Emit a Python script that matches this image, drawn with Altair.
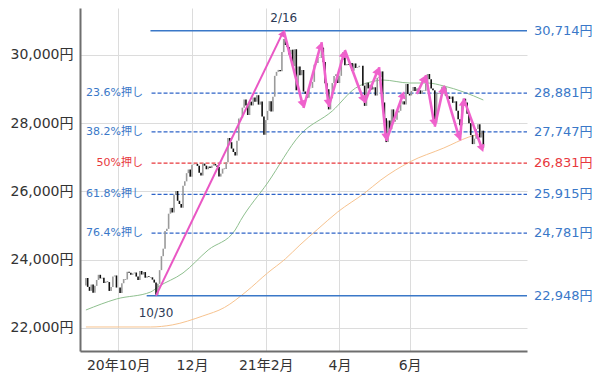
import math
import altair as alt
import pandas as pd

FONT = "DejaVu Sans, Noto Sans CJK JP"

# ---------------- data ----------------
month_keys = ["2020-09", "2020-10", "2020-11", "2020-12", "2021-01", "2021-02",
              "2021-03", "2021-04", "2021-05", "2021-06", "2021-07"]
trading_days = {
    "2020-09": [3, 4, 7, 8, 9, 10, 11, 14, 15, 16, 17, 18, 23, 24, 25, 28, 29, 30],
    "2020-10": [1, 2, 5, 6, 7, 8, 9, 12, 13, 14, 15, 16, 19, 20, 21, 22, 23, 26, 27, 28, 29, 30],
    "2020-11": [2, 4, 5, 6, 9, 10, 11, 12, 13, 16, 17, 18, 19, 20, 24, 25, 26, 27, 30],
    "2020-12": [1, 2, 3, 4, 7, 8, 9, 10, 11, 14, 15, 16, 17, 18, 21, 22, 23, 24, 25, 28, 29, 30],
    "2021-01": [4, 5, 6, 7, 8, 12, 13, 14, 15, 18, 19, 20, 21, 22, 25, 26, 27, 28, 29],
    "2021-02": [1, 2, 3, 4, 5, 8, 9, 10, 12, 15, 16, 17, 18, 19, 22, 24, 25, 26],
    "2021-03": [1, 2, 3, 4, 5, 8, 9, 10, 11, 12, 15, 16, 17, 18, 19, 22, 23, 24, 25, 26, 29, 30, 31],
    "2021-04": [1, 2, 5, 6, 7, 8, 9, 12, 13, 14, 15, 16, 19, 20, 21, 22, 23, 26, 27, 28, 30],
    "2021-05": [6, 7, 10, 11, 12, 13, 14, 17, 18, 19, 20, 21, 24, 25, 26, 27, 28, 31],
    "2021-06": [1, 2, 3, 4, 7, 8, 9, 10, 11, 14, 15, 16, 17, 18, 21, 22, 23, 24, 25, 28, 29, 30],
    "2021-07": [1, 2, 5, 6, 7, 8, 9, 12, 13, 14, 15, 16, 19, 20, 21, 26, 27, 28, 29, 30],
}
closes = {
    "2020-09": [23465, 23205, 23089, 23274, 23032, 23235, 23406, 23559, 23454, 23475, 23319, 23360,
                23346, 23087, 23204, 23511, 23539, 23185],
    "2020-10": [23185, 23029, 23312, 23433, 23422, 23647, 23619, 23558, 23601, 23626, 23507, 23410,
                23671, 23567, 23639, 23474, 23516, 23494, 23485, 23418, 23331, 22977],
    "2020-11": [23295, 23695, 24105, 24325, 24839, 24905, 25350, 25520, 25385, 25907, 26014, 25728,
                25634, 25527, 26166, 26297, 26537, 26644, 26434],
    "2020-12": [26787, 26801, 26809, 26751, 26547, 26467, 26817, 26756, 26652, 26733, 26687, 26757,
                26806, 26763, 26715, 26437, 26524, 26668, 26656, 26854, 27568, 27444],
    "2021-01": [27258, 27158, 27056, 27490, 28139, 28164, 28457, 28699, 28519, 28242, 28633, 28523,
                28757, 28631, 28822, 28546, 28635, 28197, 27663],
    "2021-02": [28092, 28362, 28646, 28341, 28779, 29389, 29506, 29563, 29520, 30084, 30468, 30292,
                30236, 30018, 30156, 29672, 30168, 28966],
    "2021-03": [29664, 29408, 29560, 28930, 28864, 28744, 29028, 29036, 29212, 29718, 29767, 29922,
                29915, 30216, 29792, 29174, 28996, 28406, 28730, 29177, 29385, 29433, 29179],
    "2021-04": [29389, 29854, 30089, 29697, 29731, 29709, 29768, 29539, 29752, 29621, 29643, 29684,
                29686, 29101, 28509, 29189, 29021, 29127, 28992, 29054, 28813],
    "2021-05": [29332, 29358, 29519, 28609, 28148, 27448, 28084, 27825, 28406, 28045, 28099, 28318,
                28365, 28554, 28643, 28550, 29149, 28860],
    "2021-06": [28815, 28946, 29059, 28942, 29020, 28964, 28861, 28959, 28949, 29162, 29442, 29292,
                29019, 28964, 28011, 28885, 28875, 28876, 29066, 29048, 28812, 28792],
    "2021-07": [28707, 28783, 28598, 28643, 28367, 28118, 27940, 28570, 28719, 28609, 28279, 28003,
                27652, 27389, 27548, 27834, 27970, 27582, 27782, 27284],
}
close_before_start = 23247

# moving averages
ma_short_dates = ["2020-09-03", "2020-09-30", "2020-10-27", "2020-11-02", "2020-11-24", "2020-12-14",
                  "2021-01-06", "2021-01-12", "2021-02-02", "2021-03-02", "2021-03-26", "2021-04-14",
                  "2021-04-28", "2021-05-11", "2021-06-01", "2021-06-15", "2021-06-28", "2021-07-13",
                  "2021-07-30"]
ma_short_vals = [22527, 22850, 23055, 23201, 23612, 24286, 24872, 25150, 26249, 27656, 28359, 29033,
                 29230, 29267, 29179, 29179, 29092, 28916, 28681]
ma_long_dates = ["2020-09-03", "2020-10-27", "2020-11-13", "2020-12-09", "2020-12-25", "2021-01-15",
                 "2021-02-02", "2021-02-17", "2021-03-02", "2021-03-16", "2021-03-31", "2021-04-21",
                 "2021-05-10", "2021-06-01", "2021-06-28", "2021-07-16", "2021-07-30"]
ma_long_vals = [22030, 22030, 22090, 22352, 22600, 23060, 23612, 24030, 24432, 24900, 25400, 25956,
                26337, 26864, 27275, 27597, 27714]

# Fibonacci retracement levels
fib_levels = [30714, 28881, 27747, 26831, 25915, 24781, 22948]
fib_pcts = ["", "23.6%押し", "38.2%押し", "50%押し", "61.8%押し", "76.4%押し", ""]

# arrows (trend moves)
seg_start_dates = ["2020-10-30", "2021-02-16", "2021-03-04", "2021-03-18", "2021-03-24", "2021-04-06",
                   "2021-04-21", "2021-05-07", "2021-05-13", "2021-06-07", "2021-06-14", "2021-06-21",
                   "2021-06-28", "2021-07-09", "2021-07-13"]
seg_start_vals = [22948, 30714, 28447, 30380, 28476, 30147, 28593, 29648, 27480, 28857, 29414, 27900,
                  29100, 27500, 28730]
seg_end_dates = ["2021-02-16", "2021-03-04", "2021-03-18", "2021-03-24", "2021-04-06", "2021-04-21",
                 "2021-05-07", "2021-05-13", "2021-05-27", "2021-06-14", "2021-06-21", "2021-06-28",
                 "2021-07-09", "2021-07-13", "2021-07-30"]
seg_end_vals = [30714, 28447, 30380, 28476, 30147, 28593, 29648, 27480, 28945, 29414, 27900, 29100,
                27500, 28730, 27150]

tick_dates = ["2020-10-01", "2020-12-01", "2021-02-01", "2021-04-01", "2021-06-01"]
tick_labels = ["20年10月", "12月", "21年2月", "4月", "6月"]

point_dates = ["2021-02-16", "2020-10-30"]
point_vals = [30714, 22948]
point_labels = ["2/16", "10/30"]

# ---------------- layout ----------------
W, H = 447, 343
PAD = {"left": 72, "top": 0, "right": 65, "bottom": 23}
XDOM = [-0.5, 242.5]
YDOM = [21326, 31377]
kx = W / (XDOM[1] - XDOM[0])
ky = H / (YDOM[1] - YDOM[0])

BLUE = "#3a78c8"
DASH_BLUE = "#2f64c8"
RED = "#e8383d"
PINK = "#ef62cc"

# ---------------- frames ----------------
dates, cl = [], []
for m in month_keys:
    for d, c in zip(trading_days[m], closes[m]):
        dates.append(f"{m}-{d:02d}")
        cl.append(c)
idx_of = {d: i for i, d in enumerate(dates)}
opens = [close_before_start] + cl[:-1]
candles = pd.DataFrame({"date": dates, "idx": range(len(dates)), "open": opens, "close": cl})
candles["up"] = candles["close"] >= candles["open"]

ma_s = pd.DataFrame({"idx": [idx_of[d] for d in ma_short_dates], "v": ma_short_vals})
ma_l = pd.DataFrame({"idx": [idx_of[d] for d in ma_long_dates], "v": ma_long_vals})

fib = pd.DataFrame({"level": fib_levels, "pct": fib_pcts})
fib["col"] = [RED if p.startswith("50%") else BLUE for p in fib_pcts]
fib["dcol"] = [RED if p.startswith("50%") else DASH_BLUE for p in fib_pcts]
fib["txt"] = [f"{v:,}円" for v in fib_levels]
fib["start"] = [35.9, 36.5, 36.5, 36.5, 36.5, 36.5, 33.8]
fib_solid = fib[fib["pct"] == ""]
fib_dash = fib[fib["pct"] != ""]

rows = []
for k, (sd, sv, ed, ev) in enumerate(zip(seg_start_dates, seg_start_vals, seg_end_dates, seg_end_vals)):
    x0, x1 = idx_of[sd], idx_of[ed]
    sx, sy = (x1 - x0) * kx, (ev - sv) * ky
    L = math.hypot(sx, sy)
    back = (4.0 if k else 3.0) / L
    ang = math.degrees(math.atan2(sx, sy)) % 360
    rows.append({"x0": x0, "y0": sv,
                 "x1": x1 - back * (x1 - x0), "y1": ev - back * (ev - sv),
                 "ang": ang, "main": k == 0})
segs = pd.DataFrame(rows)

pts = pd.DataFrame({"idx": [idx_of[d] for d in point_dates], "v": point_vals, "t": point_labels})

tick_idx = [idx_of[d] for d in tick_dates]
label_expr = "".join(f"datum.value == {i} ? '{t}' : " for i, t in zip(tick_idx, tick_labels)) + "''"

xscale = alt.Scale(domain=XDOM, nice=False, zero=False)
yscale = alt.Scale(domain=YDOM, nice=False, zero=False)

x_axis = alt.Axis(values=tick_idx, labelExpr=label_expr, grid=True, gridColor="#dcdcdc",
                  domainColor="#6e6e6e", domainWidth=2, ticks=False, labelFontSize=14,
                  labelPadding=7, title=None, labelColor="#333", labelFont=FONT)
y_axis = alt.Axis(values=[22000, 24000, 26000, 28000, 30000],
                  labelExpr="format(datum.value, ',') + '円'", grid=True, gridColor="#dcdcdc",
                  domainColor="#6e6e6e", domainWidth=2, ticks=False, labelFontSize=14,
                  labelPadding=7, title=None, labelColor="#333", labelFont=FONT)


def X(field):
    return alt.X(field, scale=xscale, title=None)


def Y(field):
    return alt.Y(field, scale=yscale, title=None)


# ---------------- layers ----------------
ma_s_layer = alt.Chart(ma_s).mark_line(color="#8fc08f", strokeWidth=1, interpolate="monotone").encode(
    x=alt.X("idx:Q", scale=xscale, axis=x_axis), y=alt.Y("v:Q", scale=yscale, axis=y_axis))
ma_l_layer = alt.Chart(ma_l).mark_line(color="#f7c38f", strokeWidth=1, interpolate="monotone").encode(
    x=X("idx:Q"), y=Y("v:Q"))

solid_layer = alt.Chart(fib_solid).mark_rule(strokeWidth=1.5).encode(
    x=X("start:Q"), x2=alt.value(W), y=Y("level:Q"),
    color=alt.Color("col:N", scale=None))
dash_layer = alt.Chart(fib_dash).mark_rule(strokeWidth=1.2, strokeDash=[4, 2]).encode(
    x=X("start:Q"), x2=alt.value(W), y=Y("level:Q"),
    color=alt.Color("dcol:N", scale=None))

candle_layer = alt.Chart(candles).mark_bar(width=1.6).encode(
    x=X("idx:Q"), y=Y("open:Q"), y2="close:Q",
    color=alt.condition("datum.up", alt.value("#9a9a9a"), alt.value("#111111")),
)

pct_text = alt.Chart(fib_dash).mark_text(align="right", baseline="middle", fontSize=11, font=FONT).encode(
    x=alt.value(63), y=Y("level:Q"), text="pct:N",
    color=alt.Color("col:N", scale=None))
val_text = alt.Chart(fib).mark_text(align="left", baseline="middle", fontSize=13, font=FONT).encode(
    x=alt.value(W + 7), y=Y("level:Q"), text="txt:N",
    color=alt.Color("col:N", scale=None))

seg_main = alt.Chart(segs[segs["main"]]).mark_rule(color="#e957c4", strokeWidth=2).encode(
    x=X("x0:Q"), x2="x1:Q", y=Y("y0:Q"), y2="y1:Q")
seg_zig = alt.Chart(segs[~segs["main"]]).mark_rule(color=PINK, strokeWidth=2.6).encode(
    x=X("x0:Q"), x2="x1:Q", y=Y("y0:Q"), y2="y1:Q")
heads = alt.Chart(segs).mark_point(shape="triangle-up", filled=True, opacity=1, strokeWidth=0).encode(
    x=X("x1:Q"), y=Y("y1:Q"),
    angle=alt.Angle("ang:Q", scale=None),
    size=alt.condition("datum.main", alt.value(45), alt.value(70)),
    color=alt.condition("datum.main", alt.value("#e957c4"), alt.value(PINK)),
)

top_lbl = alt.Chart(pts[pts["t"] == "2/16"]).mark_text(
    fontSize=12, font=FONT, color="#2d3a55", baseline="middle", dy=-13).encode(
    x=X("idx:Q"), y=Y("v:Q"), text="t:N")
bot_lbl = alt.Chart(pts[pts["t"] == "10/30"]).mark_text(
    fontSize=12, font=FONT, color="#2d3a55", baseline="middle", dy=17).encode(
    x=X("idx:Q"), y=Y("v:Q"), text="t:N")

chart = alt.layer(
    ma_s_layer, ma_l_layer, solid_layer, dash_layer, candle_layer,
    pct_text, val_text, seg_main, seg_zig, heads, top_lbl, bot_lbl,
).properties(
    width=W, height=H,
    padding=PAD,
    autosize=alt.AutoSizeParams(type="none"),
).configure_view(stroke=None)

chart.save("out.html", embed_options={"renderer": "svg", "actions": False})
